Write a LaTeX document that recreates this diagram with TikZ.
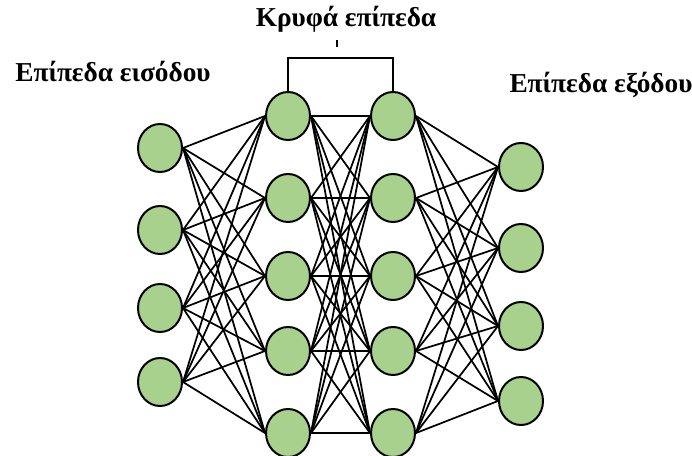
\documentclass[tikz,border=0pt]{standalone}
\usepackage{fontspec}
\setmainfont{Liberation Serif}
\usetikzlibrary{shapes.geometric}
\definecolor{cellgreen}{HTML}{A9D18E}

\begin{document}
\begin{tikzpicture}[x=0.75pt, y=-0.75pt, neuron/.style = {draw, ellipse, fill=cellgreen, line width=1.5pt, minimum width=33pt, minimum height=36pt, inner sep=0pt}, link/.style = {line width=1.3pt}, layer/.style = {font=\fontsize{20.5}{24}\selectfont\bfseries, anchor=base}]
      \useasboundingbox (0,0) rectangle (692,456);

      % input layer
      \node[neuron] (i_1) at (160,148) {};
      \node[neuron] (i_2) at (160,230) {};
      \node[neuron] (i_3) at (160,308) {};
      \node[neuron] (i_4) at (160,382) {};
      % first hidden layer
      \node[neuron] (a_1) at (288,116) {};
      \node[neuron] (a_2) at (288,198) {};
      \node[neuron] (a_3) at (288,276) {};
      \node[neuron] (a_4) at (288,351) {};
      \node[neuron] (a_5) at (288,433) {};
      % second hidden layer
      \node[neuron] (b_1) at (393,116) {};
      \node[neuron] (b_2) at (393,198) {};
      \node[neuron] (b_3) at (393,276) {};
      \node[neuron] (b_4) at (393,351) {};
      \node[neuron] (b_5) at (393,433) {};
      % output layer
      \node[neuron] (o_1) at (521,167) {};
      \node[neuron] (o_2) at (521,248) {};
      \node[neuron] (o_3) at (521,326) {};
      \node[neuron] (o_4) at (521,401) {};

      \foreach \i in {1,...,4}
        \foreach \j in {1,...,5}
          \draw[link] (i_\i.east) -- (a_\j.west);
      \foreach \i in {1,...,5}
        \foreach \j in {1,...,5}
          \draw[link] (a_\i.east) -- (b_\j.west);
      \foreach \i in {1,...,5}
        \foreach \j in {1,...,4}
          \draw[link] (b_\i.east) -- (o_\j.west);

      % labels
      \node[layer] (in_lbl) at (113,82) {Επίπεδα εισόδου};
      \node[layer] (hid_lbl) at (346,27) {Κρυφά επίπεδα};
      \node[layer] (out_lbl) at (601,93) {Επίπεδα εξόδου};

      % bracket over the hidden layers
      \draw[link] (a_1.north) -- ++(0,-33) -| (b_1.north);
      \coordinate (tick) at (337,47);
      \draw[link] (tick) -- ++(0,-7);
    \end{tikzpicture}
\end{document}
